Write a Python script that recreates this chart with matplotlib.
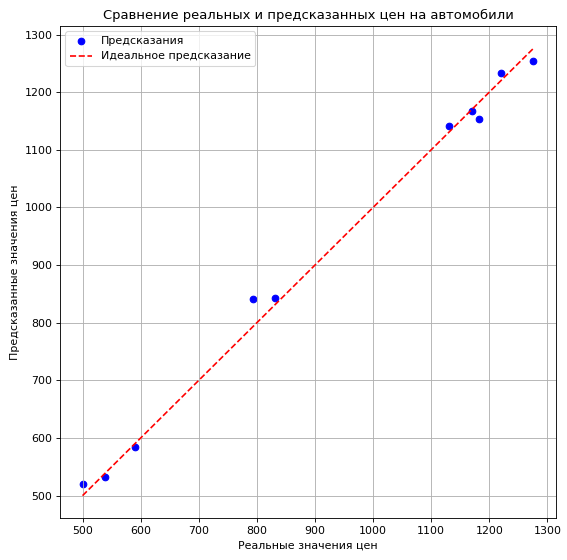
import matplotlib
matplotlib.use("Agg")
import matplotlib.pyplot as plt
import numpy as np

real = [500, 539, 590, 793, 831, 1130, 1171, 1182, 1220, 1276]
pred = [520, 532, 584, 841, 843, 1141, 1168, 1154, 1234, 1254]

W, H = 567, 560
dpi = 79.0
fig = plt.figure(figsize=(W / dpi, H / dpi), dpi=dpi)
ax = fig.add_axes([60 / W, (H - 518) / H, (556 - 60) / W, (518 - 26) / H])

ax.scatter(real, pred, color='blue', label='Предсказания')
lo, hi = min(real), max(real)
ax.plot([lo, hi], [lo, hi], 'r--', label='Идеальное предсказание')
ax.set_xlabel('Реальные значения цен')
ax.set_ylabel('Предсказанные значения цен')
ax.set_title('Сравнение реальных и предсказанных цен на автомобили')
ax.legend(loc='upper left')
ax.grid(True)

fig.savefig('out.png', dpi=dpi)
